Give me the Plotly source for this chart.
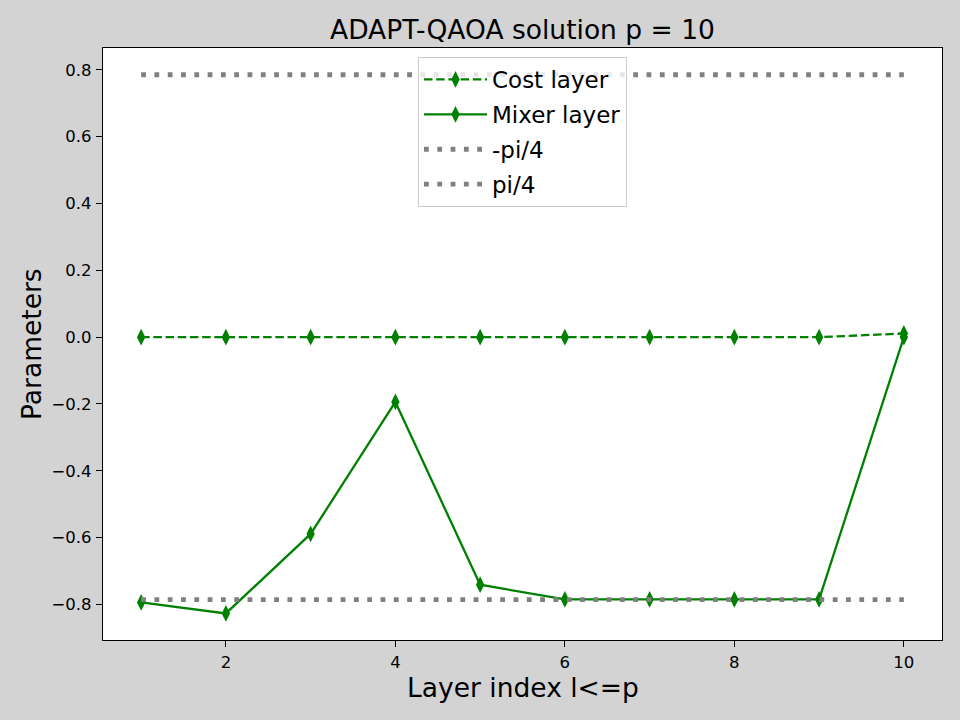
import numpy as np
import plotly.graph_objects as go

# ---- data ----
layers = [1, 2, 3, 4, 5, 6, 7, 8, 9, 10]
cost_layer = [0.0, 0.0, 0.0, 0.0, 0.0, 0.0, 0.0, 0.0, 0.0, 0.011]
mixer_layer = [-0.794, -0.827, -0.589, -0.194, -0.741, -0.785, -0.785, -0.785, -0.785, 0.0]
neg_pi4 = [-np.pi / 4] * len(layers)
pos_pi4 = [np.pi / 4] * len(layers)
x_ticks = [2, 4, 6, 8, 10]
y_ticks = [-0.8, -0.6, -0.4, -0.2, 0.0, 0.2, 0.4, 0.6, 0.8]

FONT = "DejaVu Sans"
GREEN = "#008000"
GRAY = "#808080"

fig = go.Figure()
fig.add_trace(go.Scatter(
    x=layers, y=cost_layer, name="Cost layer", mode="lines+markers", legendgroup="a",
    line=dict(color=GREEN, width=2.3, dash="8.5px,3.7px"),
    marker=dict(symbol="diamond-tall", size=12, color=GREEN),
))
fig.add_trace(go.Scatter(
    x=layers, y=mixer_layer, name="Mixer layer", mode="lines+markers", legendgroup="b",
    line=dict(color=GREEN, width=2.3),
    marker=dict(symbol="diamond-tall", size=12, color=GREEN),
))
fig.add_trace(go.Scatter(
    x=layers, y=neg_pi4, name="-pi/4", mode="lines", legendgroup="c",
    line=dict(color=GRAY, width=4.8, dash="4.8px,8.5px"),
))
fig.add_trace(go.Scatter(
    x=layers, y=pos_pi4, name="pi/4", mode="lines", legendgroup="d",
    line=dict(color=GRAY, width=4.8, dash="4.8px,8.5px"),
))

axis_common = dict(
    showline=True, linecolor="black", linewidth=1.3, mirror=True,
    ticks="outside", ticklen=6, tickwidth=1.3, tickcolor="black",
    showgrid=False, zeroline=False, ticklabelstandoff=1,
    tickfont=dict(family=FONT, size=16.5, color="black"),
)

fig.update_layout(
    width=960, height=720,
    margin=dict(l=103, r=18, t=48, b=80),
    paper_bgcolor="#d3d3d3", plot_bgcolor="white",
    font=dict(family=FONT, color="black"),
    title=dict(text="ADAPT-QAOA solution p = 10", x=0.5, xanchor="center",
               xref="paper", y=1 - 30 / 720, yref="container", yanchor="middle",
               font=dict(family=FONT, size=26.5, color="black")),
    xaxis=dict(range=[0.55, 10.45], tickvals=x_ticks, **axis_common),
    yaxis=dict(range=[-0.9065, 0.8655], tickvals=y_ticks, tickformat=".1f", **axis_common),
    legend=dict(x=0.5, xanchor="center", y=1 - 9 / 592, yanchor="top",
                bgcolor="rgba(255,255,255,0.8)", bordercolor="#cccccc", borderwidth=1,
                font=dict(family=FONT, size=23, color="black"), itemwidth=63,
                tracegroupgap=2),
    showlegend=True,
    annotations=[
        dict(text="Layer index l<=p", xref="paper", yref="paper", x=0.5, y=0,
             xanchor="center", yanchor="middle", yshift=-47, showarrow=False,
             font=dict(family=FONT, size=26.5, color="black")),
        dict(text="Parameters", xref="paper", yref="paper", x=0, y=0.5,
             xanchor="center", yanchor="middle", xshift=-72, textangle=-90,
             showarrow=False, font=dict(family=FONT, size=26.5, color="black")),
    ],
)

fig.write_html("out.html")
